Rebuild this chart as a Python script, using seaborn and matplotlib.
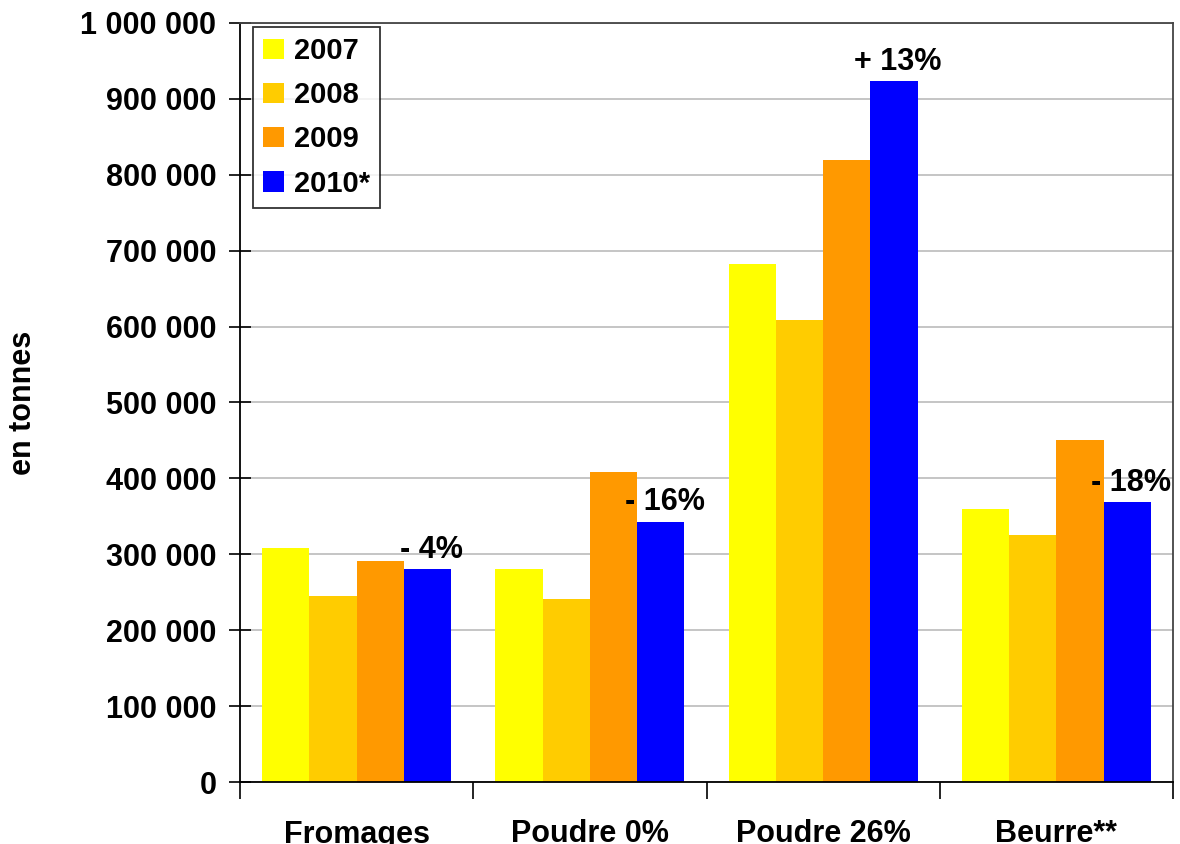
import matplotlib
matplotlib.use("Agg")
import matplotlib.pyplot as plt
import matplotlib.ticker as mticker
import seaborn as sns
import pandas as pd

categories = ["Fromages", "Poudre 0%", "Poudre 26%", "Beurre**"]
years = ["2007", "2008", "2009", "2010*"]
v2007 = [308000, 281000, 682000, 360000]
v2008 = [245000, 241000, 609000, 325000]
v2009 = [291000, 408000, 819000, 450000]
v2010 = [281000, 343000, 924000, 369000]
changes = ["- 4%", "- 16%", "+ 13%", "- 18%"]
colors = ["#FFFF00", "#FFCC00", "#FF9900", "#0000FF"]

rows = []
for yr, vals in zip(years, [v2007, v2008, v2009, v2010]):
    for c, v in zip(categories, vals):
        rows.append({"cat": c, "year": yr, "val": v})
df = pd.DataFrame(rows)

sns.set_style("white")
plt.rcParams['font.family'] = ['Liberation Sans', 'DejaVu Sans']
plt.rcParams['font.weight'] = 'bold'
for k in ["text.color", "axes.labelcolor", "xtick.color", "ytick.color"]:
    plt.rcParams[k] = "black"

fig = plt.figure(figsize=(11.8, 8.44), dpi=100)
ax = fig.add_axes([240/1180, 62/844, (1173-240)/1180, (782-23)/844])

sns.barplot(data=df, x="cat", y="val", hue="year", palette=colors,
            order=categories, hue_order=years, width=0.81, ax=ax,
            saturation=1, edgecolor="none", linewidth=0, legend=True)

ax.set_ylim(0, 1000000)
ax.set_xlim(-0.5, 3.5)
ax.set_yticks(range(0, 1000001, 100000))
ax.yaxis.set_major_formatter(mticker.FuncFormatter(lambda v, p: f"{int(v):,}".replace(",", " ")))
ax.grid(axis="y", color="#BBBBBB", linewidth=1.2)
ax.set_axisbelow(True)

for s in ["left", "bottom"]:
    ax.spines[s].set_color("black")
    ax.spines[s].set_linewidth(1.3)
for s in ["top", "right"]:
    ax.spines[s].set_color("#444444")
    ax.spines[s].set_linewidth(1.3)

ax.tick_params(axis="y", left=True, direction="inout", length=16, width=1.2,
               labelsize=22, pad=9)
ax.set_xticks(range(len(categories)))
ax.set_xticklabels(categories, fontsize=22, fontweight="bold")
ax.tick_params(axis="x", which="major", length=0, pad=27)
ax.set_xticks([-0.5, 0.5, 1.5, 2.5, 3.5], minor=True)
ax.tick_params(axis="x", which="minor", bottom=True, direction="out", length=12, width=1.2)
for lab in ax.get_yticklabels():
    lab.set_fontweight("bold")

ax.set_xlabel("")
ax.set_ylabel("en tonnes", fontsize=22, fontweight="bold")
ax.yaxis.set_label_coords(-0.2165, 0.5)

for bar, txt in zip(ax.containers[3], changes):
    x = bar.get_x() + bar.get_width() / 2
    ax.annotate(txt, (x, bar.get_height()), xytext=(3, 3), textcoords="offset points",
                ha="center", va="bottom", fontsize=22, fontweight="bold")

leg = ax.legend(loc="upper left", bbox_to_anchor=(0.0139, 0.9945), frameon=True,
                fancybox=False, edgecolor="black", fontsize=21,
                handlelength=0.7, handleheight=0.7, handletextpad=0.35,
                labelspacing=0.55, borderpad=0.35, borderaxespad=0.0)
leg.get_frame().set_linewidth(1.3)
for t in leg.get_texts():
    t.set_fontweight("bold")

fig.savefig("out.png", dpi=100)
